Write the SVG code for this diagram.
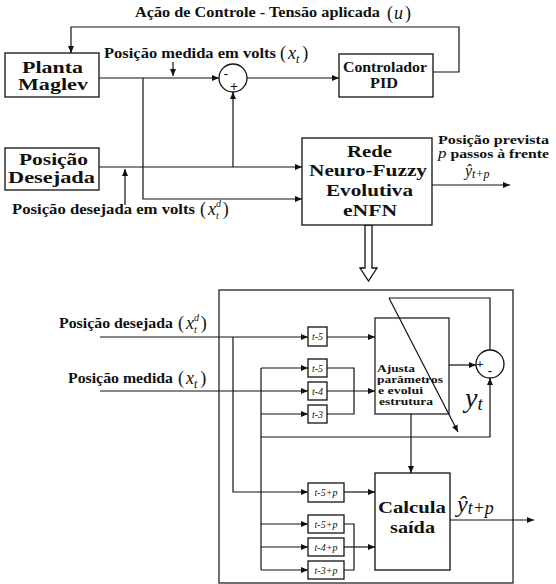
<svg xmlns="http://www.w3.org/2000/svg" width="556" height="584" viewBox="0 0 556 584">
<style>
.b{fill:#fff;stroke:#111;stroke-width:1.3}
.c{fill:none;stroke:#111;stroke-width:1.2}
.t{font-family:"Liberation Serif","DejaVu Serif",serif;font-weight:bold;fill:#111}
.m{font-family:"Liberation Serif","DejaVu Serif",serif;fill:#111}
.i{font-style:italic}
.d{font-family:"Liberation Serif","DejaVu Serif",serif;font-style:italic;font-size:10px;fill:#111;text-anchor:middle}
</style>
<defs>
<marker id="a" markerUnits="userSpaceOnUse" markerWidth="7" markerHeight="6" refX="7" refY="3" orient="auto"><path d="M0,0 L7,3 L0,6 z" fill="#111"/></marker>
</defs>
<rect width="556" height="584" fill="#fff"/>

<g id="connectors">
<polyline class="c" points="433,72 459,72 459,27 71,27 71,53" marker-end="url(#a)"/>
<line class="c" x1="99" y1="78" x2="219" y2="78" marker-end="url(#a)"/>
<line class="c" x1="247" y1="78" x2="339" y2="78" marker-end="url(#a)"/>
<line class="c" x1="173" y1="62" x2="173" y2="76" marker-end="url(#a)"/>
<polyline class="c" points="143,78 143,199 302,199" marker-end="url(#a)"/>
<line class="c" x1="99" y1="167" x2="302" y2="167" marker-end="url(#a)"/>
<line class="c" x1="233" y1="167" x2="233" y2="92" marker-end="url(#a)"/>
<line class="c" x1="125" y1="205" x2="125" y2="169" marker-end="url(#a)"/>
<line class="c" x1="432" y1="185" x2="510" y2="185" marker-end="url(#a)"/>
<polygon class="b" points="365,225 365,268 360,268 368.5,281 377,268 372,268 372,225"/>

<line class="c" x1="100" y1="337" x2="308" y2="337" marker-end="url(#a)"/>
<line class="c" x1="327" y1="337" x2="375" y2="337" marker-end="url(#a)"/>
<polyline class="c" points="233,337 233,492 308,492" marker-end="url(#a)"/>
<line class="c" x1="344" y1="492" x2="375" y2="492" marker-end="url(#a)"/>
<line class="c" x1="100" y1="391" x2="308" y2="391" marker-end="url(#a)"/>
<line class="c" x1="327" y1="391" x2="375" y2="391" marker-end="url(#a)"/>
<line class="c" x1="261" y1="368" x2="261" y2="570"/>
<line class="c" x1="261" y1="368" x2="308" y2="368" marker-end="url(#a)"/>
<line class="c" x1="261" y1="414" x2="308" y2="414" marker-end="url(#a)"/>
<polyline class="c" points="261,437 490,437 490,378" marker-end="url(#a)"/>
<polyline class="c" points="327,368 354,368 354,414 327,414"/>
<line class="c" x1="261" y1="524" x2="308" y2="524" marker-end="url(#a)"/>
<line class="c" x1="261" y1="547" x2="308" y2="547" marker-end="url(#a)"/>
<line class="c" x1="261" y1="570" x2="308" y2="570" marker-end="url(#a)"/>
<polyline class="c" points="344,524 354,524 354,570 344,570"/>
<line class="c" x1="344" y1="547" x2="375" y2="547" marker-end="url(#a)"/>
<line class="c" x1="449" y1="365" x2="476" y2="365" marker-end="url(#a)"/>
<polyline class="c" points="490,350 490,298 389,298"/>
<line class="c" x1="389" y1="298" x2="458" y2="432" marker-end="url(#a)"/>
<line class="c" x1="411" y1="414" x2="411" y2="473" marker-end="url(#a)"/>
<line class="c" x1="450" y1="520" x2="534" y2="520" marker-end="url(#a)"/>
</g>

<g id="labels">
<text class="t" x="135" y="17" font-size="14" textLength="245" lengthAdjust="spacingAndGlyphs">Ação de Controle - Tensão aplicada</text>
<text class="m" x="387" y="19" font-size="18">(<tspan class="i" dx="1">u</tspan><tspan dx="2">)</tspan></text>
<text class="t" x="104" y="58" font-size="14" textLength="172" lengthAdjust="spacingAndGlyphs">Posição medida em volts</text>
<text class="m" x="280" y="59" font-size="18">(<tspan class="i" dx="2">x</tspan><tspan class="i" font-size="12" dy="4">t</tspan><tspan dx="3" dy="-4">)</tspan></text>
<text class="t" x="12" y="214" font-size="14" textLength="183" lengthAdjust="spacingAndGlyphs">Posição desejada em volts</text>
<text class="m" x="200" y="215" font-size="18">(<tspan class="i" dx="2">x</tspan><tspan class="i" font-size="10" dy="-8">d</tspan><tspan class="i" font-size="10" dx="-5" dy="12">t</tspan><tspan dx="4" dy="-4">)</tspan></text>
<text class="t" x="438" y="144" font-size="13" textLength="111" lengthAdjust="spacingAndGlyphs">Posição prevista</text>
<text class="t" x="438" y="158" font-size="13" textLength="111" lengthAdjust="spacingAndGlyphs"><tspan class="i" font-weight="normal" font-size="14">p</tspan> passos à frente</text>
<text class="m" x="465" y="176" font-size="16"><tspan class="i">ŷ</tspan><tspan class="i" font-size="12" dy="2">t+p</tspan></text>
<text class="t" x="59" y="328" font-size="14" textLength="114" lengthAdjust="spacingAndGlyphs">Posição desejada</text>
<text class="m" x="178" y="329" font-size="18">(<tspan class="i" dx="2">x</tspan><tspan class="i" font-size="10" dy="-8">d</tspan><tspan class="i" font-size="10" dx="-5" dy="12">t</tspan><tspan dx="4" dy="-4">)</tspan></text>
<text class="t" x="68" y="383" font-size="14" textLength="105" lengthAdjust="spacingAndGlyphs">Posição medida</text>
<text class="m" x="178" y="384" font-size="18">(<tspan class="i" dx="2">x</tspan><tspan class="i" font-size="12" dy="4">t</tspan><tspan dx="3" dy="-4">)</tspan></text>
<text class="m" x="465" y="407" font-size="28"><tspan class="i">y</tspan><tspan class="i" font-size="19" dy="3">t</tspan></text>
<text class="m" x="457" y="512" font-size="24"><tspan class="i">ŷ</tspan><tspan class="i" font-size="18" dy="2">t+p</tspan></text>
</g>

<g id="planta">
<rect class="b" x="5" y="53" width="94" height="44"/>
<text class="t" x="22" y="73" font-size="16" textLength="61" lengthAdjust="spacingAndGlyphs">Planta</text>
<text class="t" x="18" y="90" font-size="16" textLength="70" lengthAdjust="spacingAndGlyphs">Maglev</text>
</g>
<g id="somador1">
<circle class="b" cx="233" cy="78" r="14"/>
<text class="t" x="226" y="78" font-size="13" text-anchor="middle">-</text>
<text class="t" x="234" y="91" font-size="14" text-anchor="middle">+</text>
</g>
<g id="pid">
<rect class="b" x="339" y="54" width="94" height="43"/>
<text class="t" x="343" y="72" font-size="14" textLength="84" lengthAdjust="spacingAndGlyphs">Controlador</text>
<text class="t" x="370" y="88" font-size="14" textLength="28" lengthAdjust="spacingAndGlyphs">PID</text>
</g>
<g id="posicao-desejada">
<rect class="b" x="5" y="148" width="94" height="42"/>
<text class="t" x="19" y="165" font-size="16" textLength="69" lengthAdjust="spacingAndGlyphs">Posição</text>
<text class="t" x="8" y="183" font-size="16" textLength="87" lengthAdjust="spacingAndGlyphs">Desejada</text>
</g>
<g id="enfn">
<rect class="b" x="302" y="138" width="130" height="87"/>
<text class="t" x="347" y="157" font-size="17" textLength="45" lengthAdjust="spacingAndGlyphs">Rede</text>
<text class="t" x="309" y="176" font-size="17" textLength="118" lengthAdjust="spacingAndGlyphs">Neuro-Fuzzy</text>
<text class="t" x="326" y="196" font-size="17" textLength="87" lengthAdjust="spacingAndGlyphs">Evolutiva</text>
<text class="t" x="343" y="216" font-size="17" textLength="54" lengthAdjust="spacingAndGlyphs">eNFN</text>
</g>
<g id="bloco-detalhe">
<rect class="c" x="219" y="290" width="294" height="293"/>
</g>
<g id="atraso-d5">
<rect class="b" x="308" y="327" width="19" height="19"/>
<text class="d" x="317.5" y="340">t-5</text>
</g>
<g id="atraso-5">
<rect class="b" x="308" y="359" width="19" height="18"/>
<text class="d" x="317.5" y="372">t-5</text>
</g>
<g id="atraso-4">
<rect class="b" x="308" y="382" width="19" height="18"/>
<text class="d" x="317.5" y="395">t-4</text>
</g>
<g id="atraso-3">
<rect class="b" x="308" y="405" width="19" height="18"/>
<text class="d" x="317.5" y="418">t-3</text>
</g>
<g id="atraso-d5p">
<rect class="b" x="308" y="483" width="36" height="19"/>
<text class="d" x="326" y="496" font-size="11">t-5+p</text>
</g>
<g id="atraso-5p">
<rect class="b" x="308" y="515" width="36" height="18"/>
<text class="d" x="326" y="528" font-size="11">t-5+p</text>
</g>
<g id="atraso-4p">
<rect class="b" x="308" y="538" width="36" height="18"/>
<text class="d" x="326" y="551" font-size="11">t-4+p</text>
</g>
<g id="atraso-3p">
<rect class="b" x="308" y="561" width="36" height="18"/>
<text class="d" x="326" y="574" font-size="11">t-3+p</text>
</g>
<g id="ajusta">
<rect class="c" x="375" y="318" width="74" height="96"/>
<text class="t" x="377" y="372" font-size="11" textLength="38" lengthAdjust="spacingAndGlyphs">Ajusta</text>
<text class="t" x="377" y="383" font-size="11" textLength="66" lengthAdjust="spacingAndGlyphs">parâmetros</text>
<text class="t" x="378" y="394" font-size="11" textLength="45" lengthAdjust="spacingAndGlyphs">e evolui</text>
<text class="t" x="379" y="405" font-size="11" textLength="54" lengthAdjust="spacingAndGlyphs">estrutura</text>
</g>
<g id="somador2">
<circle class="b" cx="490" cy="364" r="14"/>
<text class="t" x="480" y="368" font-size="13" text-anchor="middle">+</text>
<text class="t" x="490" y="375" font-size="13" text-anchor="middle">-</text>
</g>
<g id="calcula">
<rect class="b" x="375" y="473" width="75" height="97"/>
<text class="t" x="378" y="513" font-size="17" textLength="68" lengthAdjust="spacingAndGlyphs">Calcula</text>
<text class="t" x="390" y="533" font-size="17" textLength="45" lengthAdjust="spacingAndGlyphs">saída</text>
</g>
</svg>
